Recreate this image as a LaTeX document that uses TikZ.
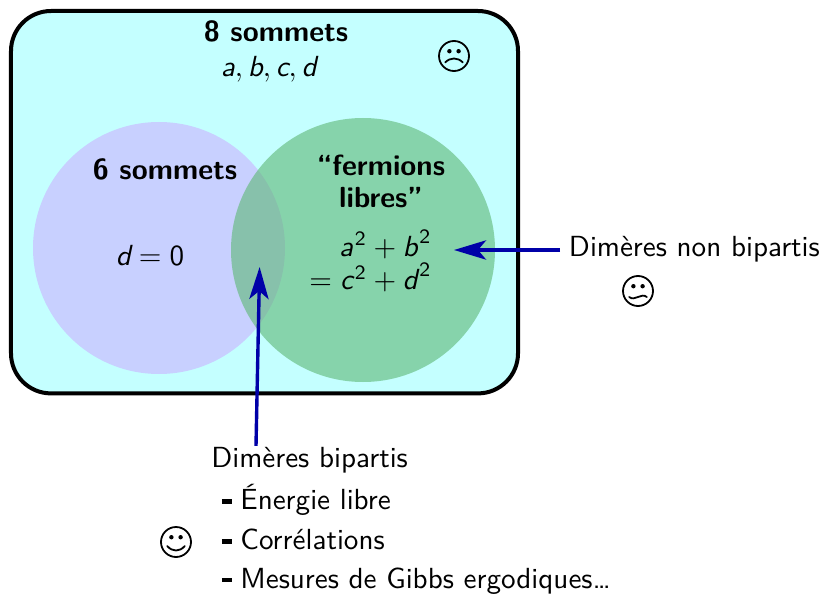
\documentclass[tikz,border=0pt]{standalone}
\usetikzlibrary{arrows.meta,calc}
\definecolor{fondcyan}{HTML}{C4FFFF}
\definecolor{bleuclair}{HTML}{C8D0FF}
\definecolor{vertlibre}{HTML}{5DB773}
\definecolor{bleuarrow}{HTML}{0000A8}
\newcommand{\lettre}[1]{\textsl{#1}}
\newcommand{\carre}{^{\kern0.06em\mathsf{2}}}
\newcommand{\tiret}{\hspace{0.11em}\rule[0.2em]{0.34em}{0.16em}\hspace{0.3em}}
\tikzset{
  txt/.style={font=\fontsize{10}{11.6}\selectfont\sffamily, scale=2.07},
  titre/.style={font=\fontsize{10}{11}\selectfont\sffamily\bfseries, scale=2.07},
  fleche/.style={draw=bleuarrow, line width=0.085cm, -{Stealth[length=0.8cm,width=0.48cm,inset=0.2cm]}},
  visage/.style={draw, circle, line width=0.045cm, minimum size=0.75cm, inner sep=0pt},
  oeil/.style={fill=black},
  bouche/.style={line width=0.045cm, line cap=round}
}
\begin{document}
\begin{tikzpicture}
  \useasboundingbox (0,0) rectangle (20.55,14.825);
  % Grand ensemble
  \draw[fill=fondcyan, line width=0.1cm, rounded corners=1cm] (0.275,4.99) rectangle (12.95,14.55);
  % Les deux disques
  \fill[bleuclair] (3.975,8.625) circle(3.15);
  \fill[vertlibre, fill opacity=0.6] (9.075,8.575) circle(3.3);

  \node[titre] (huit) at (6.9,14.03) {8 sommets};
  \node[txt] (abcd) at (6.72,13.1) {$\lettre{a},\lettre{b},\lettre{c},\lettre{d}$};
  \node[titre] (six) at (4.125,10.6) {6 sommets};
  \node[txt] (dzero) at (3.75,8.425) {$\lettre{d}=\mathsf{0}$};
  \node[titre, align=center] (fermions) at (9.525,10.28) {``fermions\\libres''};
  \node[txt, align=right, anchor=east] (eqn) at (11.05,8.3) {$\lettre{a}\carre+\lettre{b}\carre$\\$=\lettre{c}\carre+\lettre{d}\carre$};

  % Visages
  \node[visage] (triste) at (11.35,13.425) {};
  \fill[oeil] ($(triste)+(-0.115,0.12)$) circle(0.055) ($(triste)+(0.115,0.12)$) circle(0.055);
  \draw[bouche] ($(triste)+(-0.22,-0.16)$) .. controls ($(triste)+(-0.09,-0.03)$) and ($(triste)+(0.09,-0.03)$) .. ($(triste)+(0.22,-0.16)$);
  \node[visage] (moyen) at (15.95,7.55) {};
  \fill[oeil] ($(moyen)+(-0.115,0.12)$) circle(0.055) ($(moyen)+(0.115,0.12)$) circle(0.055);
  \draw[bouche] ($(moyen)+(-0.22,-0.15)$) .. controls ($(moyen)+(-0.08,-0.27)$) and ($(moyen)+(0.08,-0.03)$) .. ($(moyen)+(0.22,-0.15)$);
  \node[visage] (content) at (4.4,1.275) {};
  \fill[oeil] ($(content)+(-0.115,0.12)$) circle(0.055) ($(content)+(0.115,0.12)$) circle(0.055);
  \draw[bouche] ($(content)+(-0.22,-0.1)$) .. controls ($(content)+(-0.09,-0.25)$) and ($(content)+(0.09,-0.25)$) .. ($(content)+(0.22,-0.1)$);

  % Textes du dehors
  \node[txt, inner sep=0.1cm] (nonbip) at (17.36,8.6) {Dimères non bipartis};
  \node[txt, inner sep=0pt] (bip) at (7.74,3.32) {Dimères bipartis};
  \node[txt, anchor=west, inner sep=0pt] (energie) at (5.45,2.33) {\tiret Énergie libre};
  \node[txt, anchor=west, inner sep=0pt] (correl) at (5.45,1.33) {\tiret Corrélations};
  \node[txt, anchor=west, inner sep=0pt] (gibbs) at (5.45,0.3) {\tiret Mesures de Gibbs ergodiques\dots};

  % Fleches
  \coordinate (pointe1) at (11.35,8.575);
  \coordinate (pointe2) at (6.49,8.15);
  \draw[fleche] (nonbip.west |- pointe1) -- (pointe1);
  \draw[fleche] ($(bip.north)+(-1.34,0.02)$) -- (pointe2);
\end{tikzpicture}
\end{document}
